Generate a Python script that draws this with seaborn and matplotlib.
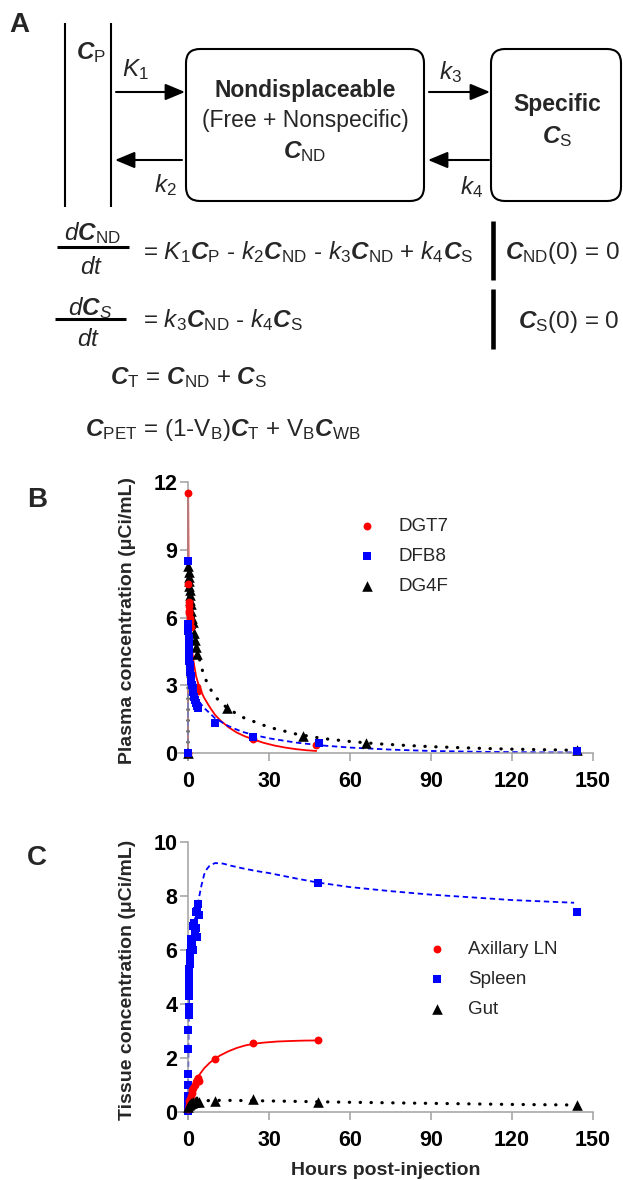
import matplotlib
matplotlib.use('Agg')
import matplotlib.pyplot as plt
import seaborn as sns
from matplotlib.patches import FancyBboxPatch

# ---- panel B: plasma ----
dgt7_t = [0, 0.08, 0.17, 0.25, 0.33, 0.42, 0.5, 0.58, 0.67, 0.75, 1.0, 3.2, 3.5, 3.8, 24, 47.5]
dgt7_y = [0, 11.5, 7.5, 6.7, 6.5, 6.3, 6.2, 6.0, 5.9, 5.8, 5.6, 2.95, 2.85, 2.75, 0.64, 0.36]
dgt7_fit_t = [0, 0.05, 0.2, 0.4, 0.7, 1, 1.5, 2, 3, 4, 5, 6, 8, 10, 12, 15, 18, 21, 24, 28, 32, 36, 40, 44, 47.5]
dgt7_fit_y = [0, 11.5, 8.5, 7.0, 6.0, 5.3, 4.6, 4.1, 3.4, 3.0, 2.7, 2.45, 2.05, 1.7, 1.45, 1.15, 0.92, 0.75,
              0.62, 0.46, 0.34, 0.25, 0.18, 0.13, 0.1]

dfb8_t = [0, 0.08, 0.12, 0.17, 0.2, 0.25, 0.3, 0.35, 0.4, 0.5, 0.6, 0.7, 0.8, 1.0, 1.2, 1.5, 1.8, 2.0,
          2.3, 2.6, 3.0, 3.3, 3.6, 10, 24, 48.5, 144]
dfb8_y = [0, 8.5, 5.7, 5.4, 5.1, 4.9, 4.7, 4.5, 4.3, 4.1, 3.9, 3.8, 3.6, 3.4, 3.2, 3.0, 2.9, 2.7,
          2.5, 2.35, 2.2, 2.1, 2.0, 1.35, 0.7, 0.45, 0.12]
dfb8_fit_t = [0, 0.05, 0.3, 0.6, 1, 2, 4, 6, 10, 15, 20, 24, 30, 40, 50, 60, 75, 90, 110, 130, 144]
dfb8_fit_y = [0, 8.5, 5.0, 4.1, 3.6, 3.0, 2.3, 2.0, 1.55, 1.2, 0.95, 0.82, 0.66, 0.47, 0.34, 0.25,
              0.16, 0.1, 0.06, 0.04, 0.03]

dg4f_t = [0, 0.1, 0.2, 0.3, 0.4, 0.5, 0.6, 0.75, 0.9, 1.0, 1.2, 1.5, 2.0, 2.3, 2.7, 3.0, 3.5,
          14.5, 42.5, 66, 144]
dg4f_y = [0, 8.3, 8.0, 7.8, 7.6, 7.4, 7.2, 7.0, 6.8, 6.6, 6.3, 6.0, 5.8, 5.3, 5.0, 4.7, 4.4,
          2.0, 0.75, 0.45, 0.15]
dg4f_fit_t = [0, 0.1, 0.5, 1, 2, 3, 4, 5, 6, 8, 10, 14.5, 20, 30, 40, 50, 60, 70, 80, 90, 100, 110, 120, 130, 144]
dg4f_fit_y = [0, 8.3, 7.6, 7.0, 6.0, 5.0, 4.3, 3.8, 3.4, 2.9, 2.5, 2.0, 1.6, 1.15, 0.85, 0.65, 0.52,
              0.42, 0.35, 0.29, 0.25, 0.21, 0.18, 0.16, 0.13]

# ---- panel C: tissue ----
ln_t = [0.1, 0.3, 0.5, 0.7, 1.0, 1.3, 1.6, 2.0, 2.5, 3.0, 3.3, 3.6, 4.0, 10, 24, 48]
ln_y = [0.1, 0.25, 0.4, 0.5, 0.6, 0.7, 0.8, 0.9, 1.0, 1.1, 1.2, 1.25, 1.15, 1.95, 2.57, 2.65]
ln_fit_t = [0, 0.5, 1, 2, 3, 4, 6, 8, 10, 12, 15, 18, 21, 24, 28, 33, 38, 43, 48]
ln_fit_y = [0, 0.3, 0.55, 0.9, 1.15, 1.35, 1.62, 1.82, 1.98, 2.1, 2.25, 2.37, 2.46, 2.52, 2.57,
            2.61, 2.63, 2.645, 2.65]

spl_t = [0, 0.02, 0.03, 0.05, 0.07, 0.1, 0.15, 0.2, 0.25, 0.3, 0.35, 0.4, 0.45, 0.5, 0.6, 0.7, 0.8,
         1.0, 1.2, 1.5, 1.8, 2.0, 2.3, 2.5, 2.8, 3.0, 3.2, 3.5, 3.8, 4.0, 48, 144]
spl_y = [0.02, 0.3, 0.6, 1.0, 1.4, 2.35, 3.05, 3.6, 3.9, 4.3, 4.6, 4.9, 5.1, 5.3, 5.5, 5.7, 5.9,
         6.1, 6.4, 6.2, 6.0, 6.9, 7.0, 6.6, 6.8, 7.4, 6.5, 7.45, 7.7, 7.3, 8.5, 7.4]
spl_fit_t = [0, 0.05, 0.1, 0.2, 0.3, 0.5, 0.75, 1, 1.5, 2, 3, 4, 5, 6, 7, 8, 10, 13, 16, 20, 25, 30,
             40, 48, 60, 75, 90, 105, 120, 143]
spl_fit_y = [0, 0.7, 1.6, 3.0, 3.9, 4.9, 5.5, 5.9, 6.4, 6.8, 7.4, 7.9, 8.4, 8.8, 9.0, 9.12, 9.22,
             9.2, 9.12, 9.03, 8.93, 8.85, 8.65, 8.5, 8.33, 8.18, 8.05, 7.95, 7.85, 7.75]

gut_t = [0, 0.3, 0.6, 1.0, 1.5, 2.0, 2.5, 3.0, 3.5, 4.0, 10, 24, 48, 144]
gut_y = [0.2, 0.25, 0.3, 0.33, 0.35, 0.37, 0.38, 0.4, 0.4, 0.38, 0.4, 0.48, 0.37, 0.25]
gut_fit_t = [0, 1, 2, 4, 7, 10, 15, 24, 36, 48, 60, 75, 90, 105, 120, 143]
gut_fit_y = [0.2, 0.3, 0.35, 0.39, 0.42, 0.43, 0.43, 0.42, 0.4, 0.38, 0.36, 0.34, 0.32, 0.3, 0.28, 0.26]

x_ticks = [0, 30, 60, 90, 120, 150]
b_yticks = [0, 3, 6, 9, 12]
c_yticks = [0, 2, 4, 6, 8, 10]

sns.set_style('ticks')
plt.rcParams['font.family'] = ['Liberation Sans', 'DejaVu Sans']
plt.rcParams['mathtext.fontset'] = 'custom'
plt.rcParams['mathtext.rm'] = 'Liberation Sans'
plt.rcParams['mathtext.it'] = 'Liberation Sans:italic'
plt.rcParams['mathtext.bf'] = 'Liberation Sans:bold'
plt.rcParams['mathtext.bfit'] = 'Liberation Sans:bold:italic'

W, H = 623, 1180
fig = plt.figure(figsize=(W / 100, H / 100), dpi=100)

# ---- panel A: compartment diagram, drawn in pixel space ----
ax0 = fig.add_axes([0, 0, 1, 1])
ax0.set_xlim(0, W)
ax0.set_ylim(H, 0)
ax0.axis('off')

LW = 1.5
FS = 17.5
FT = 16.5
for x in (65, 111):
    ax0.plot([x, x], [23, 207], color='k', lw=LW, solid_capstyle='butt')

r = 14
for (x0, y0, x1, y1) in [(186, 49, 424, 201), (491, 49, 621, 201)]:
    ax0.add_patch(FancyBboxPatch((x0 + r, y0 + r), x1 - x0 - 2 * r, y1 - y0 - 2 * r,
                                 boxstyle=f'round,pad={r}', fc='white', ec='k', lw=LW))

arrow = dict(arrowstyle='-|>,head_length=0.6,head_width=0.25', lw=LW, color='k',
             mutation_scale=20, shrinkA=0, shrinkB=0)
ax0.annotate('', xy=(185, 92), xytext=(116, 92), arrowprops=arrow)
ax0.annotate('', xy=(115, 160), xytext=(182, 160), arrowprops=arrow)
ax0.annotate('', xy=(490, 92), xytext=(429, 92), arrowprops=arrow)
ax0.annotate('', xy=(428, 160), xytext=(489, 160), arrowprops=arrow)

ax0.text(19, 25, 'A', fontsize=20, fontweight='bold', ha='center', va='center')
ax0.text(37, 500, 'B', fontsize=20, fontweight='bold', ha='center', va='center')
ax0.text(37, 858, 'C', fontsize=20, fontweight='bold', ha='center', va='center')

ax0.text(91, 53, r'$\mathbfit{C}_\mathrm{P}$', fontsize=FS, ha='center', va='center')
ax0.text(135, 70, r'$K_1$', fontsize=FS, ha='center', va='center')
ax0.text(165, 185, r'$k_2$', fontsize=FS, ha='center', va='center')
ax0.text(450, 72, r'$k_3$', fontsize=FS, ha='center', va='center')
ax0.text(472, 187, r'$k_4$', fontsize=FS, ha='center', va='center')

ax0.text(305, 90, 'Nondisplaceable', fontsize=FT, fontweight='bold', ha='center', va='center')
ax0.text(305, 120, '(Free + Nonspecific)', fontsize=FT, ha='center', va='center')
ax0.text(305, 152, r'$\mathbfit{C}_\mathrm{ND}$', fontsize=FS, ha='center', va='center')
ax0.text(557, 105, 'Specific', fontsize=FT, fontweight='bold', ha='center', va='center')
ax0.text(557, 137, r'$\mathbfit{C}_\mathrm{S}$', fontsize=FS, ha='center', va='center')

# equations
ax0.text(92, 233, r'$d\mathbfit{C}_\mathrm{ND}$', fontsize=FS, ha='center', va='center')
ax0.plot([57, 129], [247, 247], color='k', lw=2.2, solid_capstyle='butt')
ax0.text(92, 268, r'$dt$', fontsize=FS, ha='center', va='center')
ax0.text(143, 252, r'= $K_1\mathbfit{C}_\mathrm{P}$ - $k_2\mathbfit{C}_\mathrm{ND}$ - '
                   r'$k_3\mathbfit{C}_\mathrm{ND}$ + $k_4\mathbfit{C}_\mathrm{S}$',
         fontsize=FS, ha='left', va='center')
ax0.plot([493, 493], [221, 280], color='k', lw=3.3, solid_capstyle='butt')
ax0.text(505, 253, r'$\mathbfit{C}_\mathrm{ND}$(0) = 0', fontsize=FS, ha='left', va='center')

ax0.text(90, 308, r'$d\mathbfit{C}_S$', fontsize=FS, ha='center', va='center')
ax0.plot([55, 126], [319, 319], color='k', lw=2.2, solid_capstyle='butt')
ax0.text(89, 340, r'$dt$', fontsize=FS, ha='center', va='center')
ax0.text(143, 320, r'= $k_3\mathbfit{C}_\mathrm{ND}$ - $k_4\mathbfit{C}_\mathrm{S}$',
         fontsize=FS, ha='left', va='center')
ax0.plot([493, 493], [289, 349], color='k', lw=3.3, solid_capstyle='butt')
ax0.text(518, 322, r'$\mathbfit{C}_\mathrm{S}$(0) = 0', fontsize=FS, ha='left', va='center')

ax0.text(110, 378, r'$\mathbfit{C}_\mathrm{T}$ = $\mathbfit{C}_\mathrm{ND}$ + $\mathbfit{C}_\mathrm{S}$',
         fontsize=FS, ha='left', va='center')
ax0.text(85, 430, r'$\mathbfit{C}_\mathrm{PET}$ = (1-V$_\mathrm{B}$)$\mathbfit{C}_\mathrm{T}$ + '
                  r'V$_\mathrm{B}\mathbfit{C}_\mathrm{WB}$',
         fontsize=FS, ha='left', va='center')


def style_axes(ax, yticks, ylim, ylabel):
    ax.set_xlim(-3.7, 150)
    ax.set_ylim(*ylim)
    ax.set_xticks(x_ticks)
    ax.set_yticks(yticks)
    ax.spines['left'].set_position(('data', 0))
    ax.spines['bottom'].set_position(('data', 0))
    for s in ('top', 'right'):
        ax.spines[s].set_visible(False)
    for s in ('left', 'bottom'):
        ax.spines[s].set_color('#a0a0a0')
        ax.spines[s].set_linewidth(1.1)
    ax.tick_params(axis='both', direction='out', length=6, width=1.1, color='#a0a0a0',
                   labelsize=15.5, labelcolor='black')
    ax.tick_params(axis='x', pad=7)
    ax.tick_params(axis='y', pad=1.5)
    plt.setp(ax.get_xticklabels() + ax.get_yticklabels(), fontweight='bold')
    ax.set_ylabel(ylabel, fontsize=14, fontweight='bold')
    ax.yaxis.set_label_coords(-0.1, 0.5)
    ax.set_facecolor('none')


dotted = dict(linestyle=(0, (0.1, 3.3)), lw=2.3, dash_capstyle='round')
dashed = dict(linestyle=(0, (3, 2)), lw=1.3)
leg_kw = dict(loc='upper left', frameon=False, fontsize=13.5, handlelength=1.0,
              handletextpad=1.15, labelspacing=0.68, borderpad=0, borderaxespad=0)

# panel B
axB = fig.add_axes([178 / W, 1 - 760 / H, 415 / W, 278 / H])
sns.lineplot(x=dgt7_fit_t, y=dgt7_fit_y, ax=axB, color='red', lw=1.3, sort=False, estimator=None)
sns.lineplot(x=dfb8_fit_t, y=dfb8_fit_y, ax=axB, color='blue', sort=False, estimator=None, **dashed)
sns.lineplot(x=dg4f_fit_t, y=dg4f_fit_y, ax=axB, color='black', sort=False, estimator=None, **dotted)
sns.scatterplot(x=dgt7_t, y=dgt7_y, ax=axB, color='red', marker='o', s=32, linewidth=0,
                label='DGT7', zorder=4)
sns.scatterplot(x=dfb8_t, y=dfb8_y, ax=axB, color='blue', marker='s', s=34, linewidth=0,
                label='DFB8', zorder=4)
sns.scatterplot(x=dg4f_t, y=dg4f_y, ax=axB, color='black', marker='^', s=58, linewidth=0,
                label='DG4F', zorder=3)
style_axes(axB, b_yticks, (-0.3, 12), 'Plasma concentration (μCi/mL)')
axB.set_xlabel('')
axB.legend(bbox_to_anchor=(0.433, 0.871), **leg_kw)

# panel C
axC = fig.add_axes([178 / W, 1 - 1118.75 / H, 415 / W, 276.75 / H])
sns.lineplot(x=ln_fit_t, y=ln_fit_y, ax=axC, color='red', lw=1.3, sort=False, estimator=None)
sns.lineplot(x=spl_fit_t, y=spl_fit_y, ax=axC, color='blue', sort=False, estimator=None, **dashed)
sns.lineplot(x=gut_fit_t, y=gut_fit_y, ax=axC, color='black', sort=False, estimator=None, **dotted)
sns.scatterplot(x=ln_t, y=ln_y, ax=axC, color='red', marker='o', s=32, linewidth=0,
                label='Axillary LN', zorder=4)
sns.scatterplot(x=spl_t, y=spl_y, ax=axC, color='blue', marker='s', s=34, linewidth=0,
                label='Spleen', zorder=3)
sns.scatterplot(x=gut_t, y=gut_y, ax=axC, color='black', marker='^', s=58, linewidth=0,
                label='Gut', zorder=5)
style_axes(axC, c_yticks, (-0.25, 10), 'Tissue concentration (μCi/mL)')
axC.set_xlabel('Hours post-injection', fontsize=14, fontweight='bold', labelpad=8)
axC.legend(bbox_to_anchor=(0.601, 0.643), **leg_kw)

fig.savefig('out.png', dpi=100)
